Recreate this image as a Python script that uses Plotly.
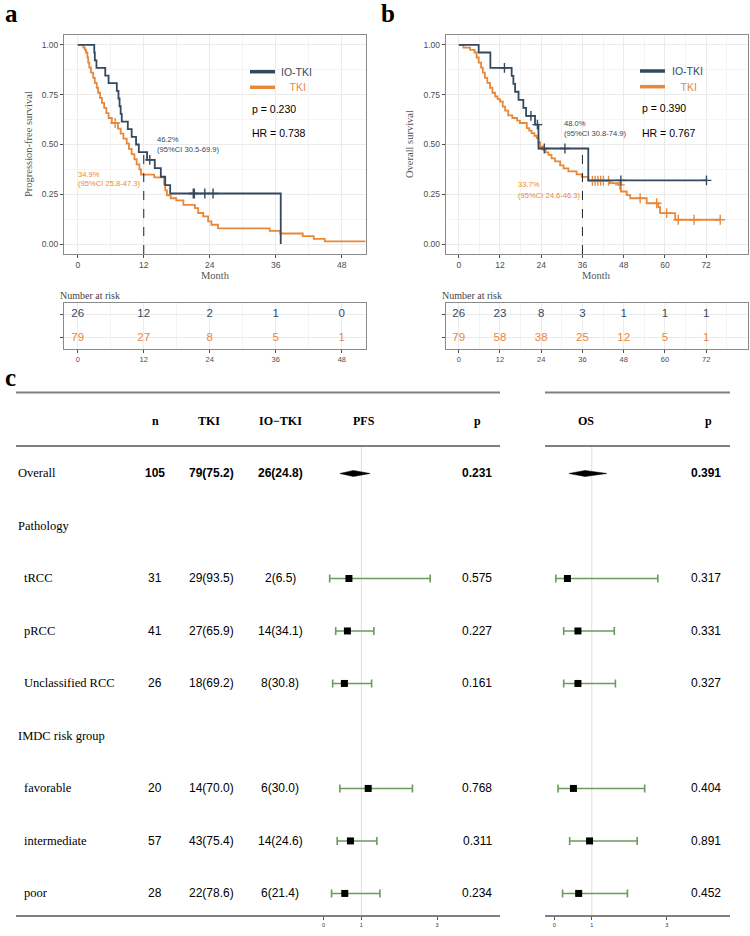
import numpy as np
import plotly.graph_objects as go

W, H = 750, 936
def px(x): return x / W
def py(y): return 1 - y / H

DARK = "#34495E"
ORANGE = "#E8883A"
GREEN = "#6B9A5C"
SERIF = "Liberation Serif, Times New Roman, serif"
SANS = "Liberation Sans, Arial, sans-serif"

# ---------------- Panel a: PFS ----------------
pfs_io_t = [0, 3.0, 3.1, 3.4, 5.0, 5.6, 7.1, 7.4, 7.6, 7.8, 8.0, 9.1, 9.8, 10.6, 11.1, 12.6, 14.0, 15.1, 15.9, 16.8, 36.9]
pfs_io_s = [1.0, 0.962, 0.923, 0.885, 0.846, 0.808, 0.769, 0.731, 0.692, 0.654, 0.615, 0.577, 0.538, 0.500, 0.462, 0.423, 0.381, 0.338, 0.296, 0.254, 0.0]
pfs_io_cens = [13.1, 21.0, 21.2, 23.1, 24.6]

pfs_tki_t = [0, 1.0, 1.3, 1.5, 1.75, 1.9, 2.1, 2.4, 2.8, 3.1, 3.45, 3.7, 4.05, 4.4, 4.8, 5.2, 5.6, 6.2, 7.3, 7.8, 8.3, 8.9,
             9.3, 9.8, 10.3, 10.7, 11.2, 11.5, 13.9, 15.7, 15.9, 16.2, 16.9, 17.9, 19.2, 21.3, 21.9, 22.8, 23.7, 24.3,
             25.5, 34.9, 36.8, 40.9, 42.9, 44.9]
pfs_tki_s = [1.0, 0.987, 0.975, 0.962, 0.937, 0.911, 0.886, 0.861, 0.835, 0.81, 0.785, 0.76, 0.734, 0.709, 0.684, 0.658,
             0.633, 0.608, 0.58, 0.555, 0.53, 0.505, 0.478, 0.452, 0.426, 0.40, 0.375, 0.349, 0.335, 0.30, 0.27, 0.245,
             0.23, 0.219, 0.197, 0.18, 0.156, 0.139, 0.114, 0.097, 0.079, 0.066, 0.053, 0.04, 0.026, 0.013]
pfs_tki_end = 52.3
pfs_tki_cens = [6.8]

risk_a_times = [0, 12, 24, 36, 48]
risk_a_io = [26, 12, 2, 1, 0]
risk_a_tki = [79, 27, 8, 5, 1]

# ---------------- Panel b: OS ----------------
os_io_t = [0, 5.8, 9.2, 15.4, 15.9, 16.4, 17.4, 18.8, 19.6, 22.2, 23.2, 37.7]
os_io_s = [1.0, 0.962, 0.885, 0.845, 0.805, 0.765, 0.724, 0.684, 0.644, 0.60, 0.48, 0.32]
os_io_end = 72.1
os_io_cens = [13.3, 21.0, 22.9, 24.9, 30.9, 47.2, 72.1]

os_tki_t = [0, 1.35, 3.3, 4.6, 5.2, 5.8, 6.5, 7.0, 7.6, 8.3, 9.1, 9.8, 10.6, 11.3, 12.0, 12.8, 13.5, 14.4, 15.6, 17.0,
            17.8, 19.8, 20.5, 21.2, 22.0, 22.7, 23.2, 23.7, 24.6, 25.3, 26.1, 27.0, 28.0, 29.5, 30.5, 31.9, 34.3, 35.8,
            37.7, 44.0, 46.5, 47.2, 48.9, 49.9, 54.7, 58.1, 58.6, 63.0]
os_tki_s = [1.0, 0.987, 0.975, 0.962, 0.937, 0.911, 0.886, 0.861, 0.835, 0.81, 0.785, 0.76, 0.741, 0.728, 0.716, 0.69,
            0.67, 0.646, 0.633, 0.62, 0.608, 0.582, 0.57, 0.557, 0.544, 0.532, 0.51, 0.49, 0.473, 0.46, 0.448, 0.43,
            0.415, 0.395, 0.38, 0.365, 0.35, 0.337, 0.318, 0.306, 0.297, 0.264, 0.246, 0.23, 0.205, 0.185, 0.155, 0.122]
os_tki_end = 76.1
os_tki_cens = [38.9, 39.7, 40.5, 41.3, 42.1, 43.6, 46.9, 52.8, 57.6, 60.5, 63.9, 68.5, 76.1]

risk_b_times = [0, 12, 24, 36, 48, 60, 72]
risk_b_io = [26, 23, 8, 3, 1, 1, 1]
risk_b_tki = [79, 58, 38, 25, 12, 5, 1]

# ---------------- Panel c: table / forest ----------------
row_labels = ["Overall", "Pathology", "tRCC", "pRCC", "Unclassified RCC", "IMDC risk group",
              "favorable", "intermediate", "poor"]
row_indent = [0, 0, 1, 1, 1, 0, 1, 1, 1]
n_total = [105, None, 31, 41, 26, None, 20, 57, 28]
tki_n = [79, None, 29, 27, 18, None, 14, 43, 22]
tki_pct = [75.2, None, 93.5, 65.9, 69.2, None, 70.0, 75.4, 78.6]
io_n = [26, None, 2, 14, 8, None, 6, 14, 6]
io_pct = [24.8, None, 6.5, 34.1, 30.8, None, 30.0, 24.6, 21.4]
pfs_hr = [0.79, None, 0.67, 0.63, 0.55, None, 1.18, 0.71, 0.56]
pfs_lo = [0.43, None, 0.16, 0.32, 0.24, None, 0.43, 0.36, 0.21]
pfs_hi = [1.23, None, 2.82, 1.33, 1.27, None, 2.35, 1.41, 1.49]
pfs_p = [0.231, None, 0.575, 0.227, 0.161, None, 0.768, 0.311, 0.234]
os_hr = [0.82, None, 0.35, 0.63, 0.63, None, 0.51, 0.94, 0.65]
os_lo = [0.39, None, 0.04, 0.25, 0.25, None, 0.10, 0.41, 0.22]
os_hi = [1.40, None, 2.76, 1.60, 1.63, None, 2.41, 2.21, 1.95]
os_p = [0.391, None, 0.317, 0.331, 0.327, None, 0.404, 0.891, 0.452]
headers = ["n", "TKI", "IO\u2212TKI", "PFS", "p", "OS", "p"]
forest_ticks = [0, 1, 3]

fig = go.Figure()

def step_val(t, s, x):
    i = int(np.searchsorted(np.array(t), x, side="right")) - 1
    return s[max(i, 0)]

def add_km(t, s, end, cens, color, xa, ya):
    tt = list(t) + ([end] if end is not None else [])
    ss = list(s) + ([s[-1]] if end is not None else [])
    fig.add_trace(go.Scatter(x=tt, y=ss, mode="lines", line=dict(color=color, width=1.8, shape="hv"),
                             xaxis=xa, yaxis=ya, showlegend=False, hoverinfo="skip"))
    cy = [step_val(t, s, c) for c in cens]
    fig.add_trace(go.Scatter(x=cens, y=cy, mode="markers",
                             marker=dict(symbol="cross-thin", size=7, line=dict(color=color, width=1.4)),
                             xaxis=xa, yaxis=ya, showlegend=False, hoverinfo="skip"))

add_km(pfs_tki_t, pfs_tki_s, pfs_tki_end, pfs_tki_cens, ORANGE, "x", "y")
add_km(pfs_io_t, pfs_io_s, None, pfs_io_cens, DARK, "x", "y")
add_km(os_tki_t, os_tki_s, os_tki_end, os_tki_cens, ORANGE, "x2", "y2")
add_km(os_io_t, os_io_s, os_io_end, os_io_cens, DARK, "x2", "y2")

# landmark dashed lines
fig.add_shape(type="line", xref="x", yref="y", x0=12, x1=12, y0=-0.05, y1=step_val(pfs_io_t, pfs_io_s, 12),
              line=dict(color="#222", width=1, dash="dash"))
fig.add_shape(type="line", xref="x2", yref="y2", x0=36, x1=36, y0=-0.05, y1=step_val(os_io_t, os_io_s, 36),
              line=dict(color="#222", width=1, dash="dash"))

# risk tables
for times, io, tki, xa, ya in [(risk_a_times, risk_a_io, risk_a_tki, "x3", "y3"),
                               (risk_b_times, risk_b_io, risk_b_tki, "x4", "y4")]:
    fig.add_trace(go.Scatter(x=times, y=[2] * len(times), mode="text", text=[str(v) for v in io],
                             textfont=dict(color=DARK, size=11.5, family=SANS), xaxis=xa, yaxis=ya,
                             showlegend=False, hoverinfo="skip"))
    fig.add_trace(go.Scatter(x=times, y=[1] * len(times), mode="text", text=[str(v) for v in tki],
                             textfont=dict(color=ORANGE, size=11.5, family=SANS), xaxis=xa, yaxis=ya,
                             showlegend=False, hoverinfo="skip"))

# forest plots
ROWS = list(range(1, len(row_labels) + 1))
for hr, lo, hi, xa, ya in [(pfs_hr, pfs_lo, pfs_hi, "x5", "y5"), (os_hr, os_lo, os_hi, "x6", "y6")]:
    xs, ys, ep, em = [], [], [], []
    for i, r in enumerate(ROWS):
        if hr[i] is None:
            continue
        if i == 0:
            d = 0.058
            fig.add_trace(go.Scatter(x=[lo[i], hr[i], hi[i], hr[i], lo[i]], y=[r, r - d, r, r + d, r],
                                     mode="lines", fill="toself", fillcolor="black",
                                     line=dict(color="black", width=0.5), xaxis=xa, yaxis=ya,
                                     showlegend=False, hoverinfo="skip"))
            continue
        xs.append(hr[i]); ys.append(r); ep.append(hi[i] - hr[i]); em.append(hr[i] - lo[i])
    fig.add_trace(go.Scatter(x=xs, y=ys, mode="markers",
                             marker=dict(symbol="square", size=7, color="black"),
                             error_x=dict(type="data", symmetric=False, array=ep, arrayminus=em,
                                          color=GREEN, thickness=1.6, width=4),
                             xaxis=xa, yaxis=ya, showlegend=False, hoverinfo="skip"))

# reference lines at HR = 1
for xa, ya in [("x5", "y5"), ("x6", "y6")]:
    fig.add_shape(type="line", xref=xa, yref=ya, x0=1, x1=1, y0=0.476, y1=9.43,
                  line=dict(color="#dcdcdc", width=1), layer="below")

# horizontal rules of the table
for yy in [392.5, 446, 916]:
    for x0, x1 in [(16, 500), (545, 730)]:
        fig.add_shape(type="line", xref="paper", yref="paper", x0=px(x0), x1=px(x1), y0=py(yy), y1=py(yy),
                      line=dict(color="#808080", width=2))

ann = []
def text(x, y, s, size, color="black", family=SANS, xanchor="left", yanchor="middle", xref="paper", yref="paper", angle=0):
    ann.append(dict(x=x, y=y, text=s, xref=xref, yref=yref, showarrow=False, xanchor=xanchor, yanchor=yanchor,
                    font=dict(size=size, color=color, family=family), textangle=angle))

# panel letters
text(px(3), py(14), "<b>a</b>", 25, family=SERIF)
text(px(379), py(14), "<b>b</b>", 25, family=SERIF)
text(px(3), py(377), "<b>c</b>", 25, family=SERIF)

# KM annotations
for (lx, ly1, ly2, tx1, tx2, ptx, pty, hry, pval, hrval) in [
        (250, 71.7, 87.3, 279, 279, 250, 109, 133.3, "p = 0.230", "HR = 0.738"),
        (640, 71.0, 86.7, 670, 670, 640, 108.3, 133.3, "p = 0.390", "HR = 0.767")]:
    fig.add_shape(type="line", xref="paper", yref="paper", x0=px(lx), x1=px(lx + 25), y0=py(ly1), y1=py(ly1),
                  line=dict(color=DARK, width=3.5))
    fig.add_shape(type="line", xref="paper", yref="paper", x0=px(lx), x1=px(lx + 25), y0=py(ly2), y1=py(ly2),
                  line=dict(color=ORANGE, width=3.5))
    text(px(tx1), py(ly1), "IO-TKI", 10.5, DARK)
    text(px(tx2), py(ly2), "   TKI", 10.5, ORANGE)
    text(px(ptx), py(pty), pval, 10.5, "black")
    text(px(ptx), py(hry), hrval, 10.5, "black")

text(px(155), py(139.3), "46.2%", 7.6, DARK)
text(px(155), py(149.3), "(95%CI 30.5-69.9)", 7.6, DARK)
text(px(76), py(174), "34.9%", 7.6, ORANGE)
text(px(76), py(184), "(95%CI 25.8-47.3)", 7.6, ORANGE)
text(px(561.5), py(123.3), "48.0%", 7.6, DARK)
text(px(561.5), py(133.3), "(95%CI 30.8-74.9)", 7.6, DARK)
text(px(515.5), py(185), "33.7%", 7.6, ORANGE)
text(px(515.5), py(195), "(95%CI 24.6-46.3)", 7.6, ORANGE)

text(px(28.5), py(144.5), "Progression-free survival", 10.5, "#555", SERIF, xanchor="center", angle=-90)
text(px(409.5), py(144.5), "Overall survival", 10.5, "#555", SERIF, xanchor="center", angle=-90)
text(px(215), py(275), "Month", 10.5, "#555", SERIF, xanchor="center")
text(px(596.7), py(275), "Month", 10.5, "#555", SERIF, xanchor="center")
text(px(58), py(295), "Number at risk", 10, "#444", SERIF)
text(px(440), py(295), "Number at risk", 10, "#444", SERIF)

# table headers
col_x = {"n": 155, "TKI": 209, "IO": 280, "PFS": 364, "p1": 477, "OS": 586, "p2": 708}
for h, key in zip(headers, ["n", "TKI", "IO", "PFS", "p1", "OS", "p2"]):
    text(px(col_x[key]), 0, "<b>%s</b>" % h, 12, "black", SERIF, xanchor="center", yref="y5")

for i, r in enumerate(ROWS):
    lab = row_labels[i]
    text(px(16 + 6 * row_indent[i]), r, lab, 12.5, "black", SERIF, yref="y5")
    if n_total[i] is None:
        continue
    b = (i == 0)
    def fmt(s):
        return "<b>%s</b>" % s if b else s
    text(px(col_x["n"]), r, fmt(str(n_total[i])), 12, xanchor="center", yref="y5")
    text(px(col_x["TKI"] + 2), r, fmt("%d(%.1f)" % (tki_n[i], tki_pct[i])), 12, xanchor="center", yref="y5")
    text(px(col_x["IO"]), r, fmt("%d(%.1f)" % (io_n[i], io_pct[i])), 12, xanchor="center", yref="y5")
    text(px(col_x["p1"]), r, fmt("%.3f" % pfs_p[i]), 12, xanchor="center", yref="y5")
    text(px(col_x["p2"] - 2), r, fmt("%.3f" % os_p[i]), 12, xanchor="center", yref="y5")

fig.update_layout(annotations=ann)

GRID = "#ebebeb"
MINOR = "#f4f4f4"
FRAME = "#8a8a8a"
TICKF = dict(size=8.5, color="#4d4d4d", family=SANS)

def km_x(dom, rng, ticks, minor, anchor, show_labels=True):
    return dict(domain=dom, range=rng, tickvals=ticks, ticks="outside", ticklen=3, tickcolor="#4d4d4d",
                tickfont=TICKF, showgrid=True, gridcolor=GRID, gridwidth=1, zeroline=False,
                minor=dict(tickvals=minor, showgrid=True, gridcolor=MINOR, ticks=""),
                showline=True, mirror=True, linecolor=FRAME, linewidth=1, anchor=anchor,
                showticklabels=show_labels)

xa_dom = [px(64), px(366)]
xb_dom = [px(445.7), px(747.7)]
ra = [-2.5, 52.4]
rb = [-3.8, 84.1]
mina = [6, 18, 30, 42]
minb = [6, 18, 30, 42, 54, 66, 78]
km_y = dict(range=[-0.05, 1.05], tickvals=[0, 0.25, 0.5, 0.75, 1.0],
            ticktext=["0.00", "0.25", "0.50", "0.75", "1.00"], ticks="outside", ticklen=3, tickcolor="#4d4d4d",
            tickfont=TICKF, showgrid=True, gridcolor=GRID, zeroline=False,
            minor=dict(tickvals=[0.125, 0.375, 0.625, 0.875], showgrid=True, gridcolor=MINOR, ticks=""),
            showline=True, mirror=True, linecolor=FRAME, linewidth=1)
risk_y = dict(range=[0.5, 2.5], tickvals=[1, 2], ticktext=["", ""], ticks="outside", ticklen=3,
              tickcolor="#4d4d4d", showgrid=True, gridcolor=GRID, zeroline=False,
              showline=True, mirror=True, linecolor=FRAME, linewidth=1)

rdom = [py(349.3), py(302.7)]
kdom = [py(254), py(35)]

def f_range(dom_px, zero_px, unit):
    return [(dom_px[0] - zero_px) / unit, (dom_px[1] - zero_px) / unit]

cdom = [py(916), py(392.5)]
fy = dict(domain=cdom, range=[9.43, -0.543], visible=False, showgrid=False, zeroline=False)
fx_common = dict(tickvals=forest_ticks, ticks="outside", ticklen=3, tickwidth=0.6, tickcolor="#555",
                 tickfont=dict(size=5.5, color="#333", family=SANS), showgrid=False, zeroline=False,
                 showline=False)

fig.update_layout(
    width=W, height=H, autosize=False, margin=dict(l=0, r=0, t=0, b=0),
    paper_bgcolor="white", plot_bgcolor="white", showlegend=False,
    xaxis=km_x(xa_dom, ra, [0, 12, 24, 36, 48], mina, "y"),
    yaxis=dict(domain=kdom, anchor="x", **km_y),
    xaxis2=km_x(xb_dom, rb, [0, 12, 24, 36, 48, 60, 72], minb, "y2"),
    yaxis2=dict(domain=kdom, anchor="x2", **km_y),
    xaxis3=km_x(xa_dom, ra, [0, 12, 24, 36, 48], mina, "y3"),
    yaxis3=dict(domain=rdom, anchor="x3", **risk_y),
    xaxis4=km_x(xb_dom, rb, [0, 12, 24, 36, 48, 60, 72], minb, "y4"),
    yaxis4=dict(domain=rdom, anchor="x4", **risk_y),
    xaxis5=dict(domain=[px(300), px(460)], range=f_range([300, 460], 323.6, 37.8), anchor="y5", **fx_common),
    yaxis5=dict(anchor="x5", **fy),
    xaxis6=dict(domain=[px(540), px(680)], range=f_range([540, 680], 554.3, 37.5), anchor="y6", **fx_common),
    yaxis6=dict(anchor="x6", **fy),
)
fig.update_xaxes(tickfont=dict(size=7.5), selector=dict(anchor="y3"))
fig.update_xaxes(tickfont=dict(size=7.5), selector=dict(anchor="y4"))

fig.write_html("out.html")
